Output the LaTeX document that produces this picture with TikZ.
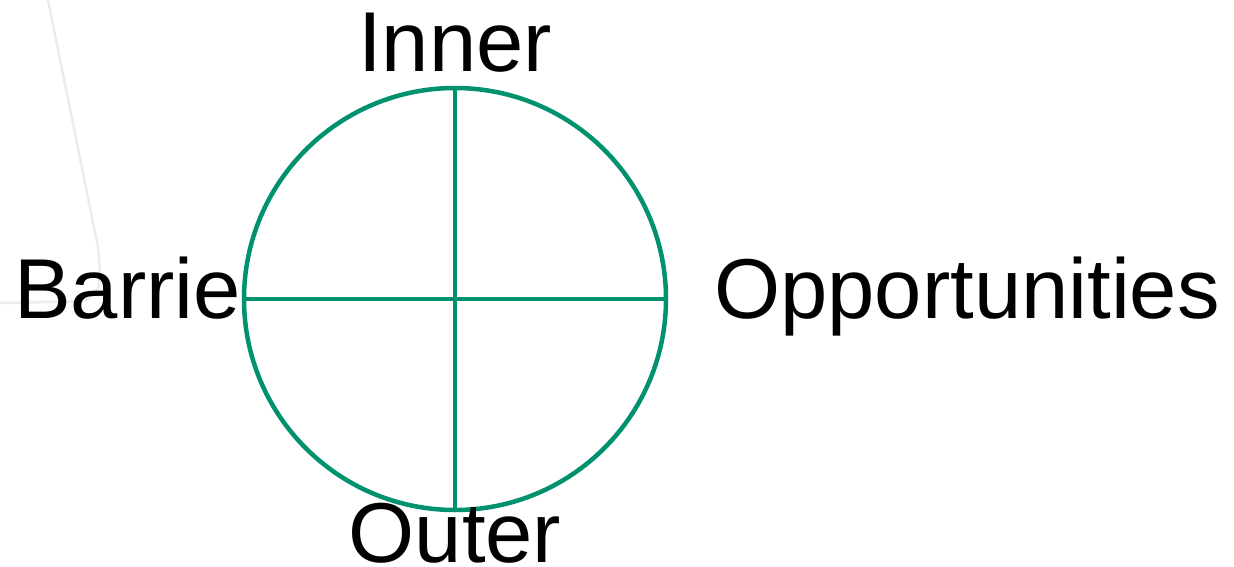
\documentclass[tikz,border=0pt]{standalone}
\usepackage{fontspec}
\setmainfont{Liberation Sans}
\definecolor{ringgreen}{RGB}{0,146,110}
\definecolor{faintgrey}{RGB}{236,236,236}
\begin{document}
\begin{tikzpicture}[x=1pt,y=-1pt,
  lbl/.style={inner sep=0pt,anchor=base,font=\fontsize{85}{92}\selectfont},
  ring/.style={draw=ringgreen,line width=4.5pt,circle,minimum size=422pt,inner sep=0pt},
  axis/.style={draw=ringgreen,line width=4.5pt}]
\useasboundingbox[fill=white] (0,0) rectangle (1234,567);
\draw[faintgrey,line width=2.5pt,rounded corners=20pt] (48,0) -- (101,262) -- (98,301) -- (0,303);
\node[ring] (c) at (455,299) {};
\draw[axis] (c.north) -- (c.south);
\draw[axis] (c.west) -- (c.east);
\node[lbl] (inner) at (455,72) {Inner};
\node[lbl,anchor=base east] (barrie) at (241,318) {Barrie};
\node[lbl,anchor=base west] (opp) at (714,318) {Opportunities};
\node[lbl] (outer) at (455,562) {Outer};
\end{tikzpicture}
\end{document}
